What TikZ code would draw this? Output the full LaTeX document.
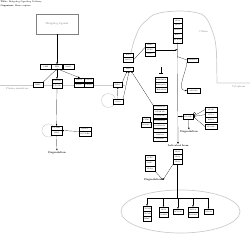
\documentclass[tikz,border=0pt]{standalone}
\usepackage{tikz}
\usetikzlibrary{shapes.geometric, arrows, arrows.meta, positioning}

\begin{document}
\begin{tikzpicture}[x=0.1cm, y=-0.1cm]
\tikzstyle{gene}=[draw, line width=0.45pt, fill=white, minimum width=1cm, minimum height=0.44cm, inner sep=0pt, font=\fontsize{5}{5}\selectfont]
\tikzstyle{arr}=[-{Latex[length=5pt,width=4pt]}, line width=0.5pt]
\tikzstyle{memb}=[gray!40, line width=2pt]
\tikzstyle{lbl}=[gray, font=\fontsize{7.5}{8}\selectfont]
\tikzstyle{deg}=[font=\bfseries\fontsize{7.5}{8}\selectfont]
\tikzstyle{loopln}=[gray!70, line width=0.5pt]
\tikzstyle{tx}=[line width=1.2pt]

\useasboundingbox (0,0) rectangle (250,235);

\node[anchor=north west, inner sep=0pt, font=\fontsize{6.5}{7}\selectfont] (ttl) at (0.5,0.8) {\textbf{Title:} Hedgehog Signaling Pathway};
\node[anchor=north west, inner sep=0pt, font=\fontsize{6.5}{7}\selectfont] (org) at (0.5,4.6) {\textbf{Organism:} Homo sapiens};

% membranes, cilium and nucleus
\draw[memb] (0,85) -- (125,85);
\draw[memb] plot[smooth] coordinates {(131,53) (134,41) (140,27) (147,20) (153,15) (165,12) (180,11) (193,12) (203,15) (208,21) (212,30) (215,40) (216.5,52)};
\draw[memb] (216.5,52) -- (217,83) -- (250,83);
\draw[memb] (180.5,211.5) ellipse [x radius=59.5, y radius=21.5];
\node[lbl] (pmlbl) at (17.5,89) {Plasma membrane};
\node[lbl] (cytlbl) at (238.5,87) {Cytoplasm};
\node[lbl] (cillbl) at (203.5,32) {Cilium};

\draw[loopln] (48.5,130.5) circle [radius=6.5];
\draw[loopln] (108.5,100.5) circle [radius=7];

% ligands and receptors
\node[draw=gray!35, line width=2.5pt, minimum width=4.2cm, minimum height=2cm, gray, font=\fontsize{8}{9}\selectfont] (hhlig) at (57,24) {Hedgehog ligands};
\node[gene, minimum width=1.1cm] (ihh) at (57,66.5) {IHH};
\node[gene, minimum width=1.1cm, left=0pt of ihh] (shh) {SHH};
\node[gene, minimum width=1.1cm, right=0pt of ihh] (dhh) {DHH};
\node[gene] (hhip) at (38,84.5) {HHIP};
\node[gene] (ptcha) at (57,81.2) {PTCH1};
\node[gene, below=0pt of ptcha] (ptchb) {PTCH2};
\node[gene, minimum width=0.95cm, minimum height=0.45cm] (gasa) at (79,80.2) {GAS1};
\node[gene, minimum width=0.95cm, minimum height=0.45cm, right=0pt of gasa] (cdon) {CDON};
\node[gene, minimum width=0.95cm, minimum height=0.45cm, below=0pt of gasa] (boc) {BOC};
\node[gene, minimum width=0.95cm, minimum height=0.45cm, right=0pt of boc] (lrp) {LRP2};
\node[gene, minimum width=1.1cm] (ptchc) at (56.5,128.2) {PTCH1};
\node[gene, minimum width=1.1cm, below=0pt of ptchc] (shhc) {SHH};
\node[gene, minimum width=1.2cm] (dispa) at (85,129.2) {DISP1};
\node[gene, minimum width=1.2cm, below=0pt of dispa] (dispb) {SCUBE2};
\node[deg] (dega) at (57,153) {Degradation};

% smoothened and cilium
\node[gene, minimum width=0.95cm] (smoa) at (117.5,84.5) {SMO};
\node[gene] (smob) at (118,101.5) {SMO};
\node[gene] (evca) at (128.5,55.2) {EVC};
\node[gene, below=0pt of evca] (evcb) {EVC2};
\node[gene] (smoc) at (128.5,68.8) {SMO};
\node[gene] (kifa) at (150,45.2) {KIF7};
\node[gene, below=0pt of kifa] (kifb) {SUFU};
\node[gene, below=0pt of kifb] (kifc) {GLI3};
\node[gene, minimum width=0.9cm, minimum height=0.48cm] (tipa) at (177.5,20.4) {GLI2};
\node[gene, minimum width=0.9cm, minimum height=0.48cm, below=0pt of tipa] (tipb) {GLI3};
\node[gene, minimum width=0.9cm, minimum height=0.48cm, below=0pt of tipb] (tipc) {SUFU};
\node[gene, minimum width=0.9cm, minimum height=0.48cm, below=0pt of tipc] (tipd) {KIF7};
\node[gene, minimum width=0.9cm, minimum height=0.48cm, below=0pt of tipd] (tipe) {STK36};
\node[gene, minimum width=1.1cm] (gpra) at (192.5,60) {GPR161};
\node[gene, minimum width=1.3cm] (gprb) at (193.5,90.5) {ADCY6};

% kinases
\node[gene, minimum width=1.2cm, minimum height=0.5cm] (pkaa) at (161,79.5) {PRKACA};
\node[gene, minimum width=1.2cm, minimum height=0.5cm, below=0pt of pkaa] (pkab) {PRKACB};
\node[gene, minimum width=1.2cm, minimum height=0.5cm, below=0pt of pkab] (pkac) {PRKAR1A};
\coordinate (pkain) at (161,67);
\node[gene, minimum width=1.4cm] (cka) at (160,107.2) {CSNK1A1};
\node[gene, minimum width=1.4cm, below=0pt of cka] (ckb) {CSNK1D};
\node[gene, minimum width=1.4cm, below=0pt of ckb] (ckc) {CSNK1E};
\node[gene, minimum width=1.4cm, below=0pt of ckc] (ckd) {CSNK1G1};
\node[gene, minimum width=1.4cm, below=0pt of ckd] (cke) {CSNK1G2};
\node[gene, minimum width=1.4cm, below=0pt of cke] (ckf) {CSNK1G3};
\node[gene, minimum width=1.4cm, below=0pt of ckf] (ckg) {GSK3A};
\node[gene, minimum width=1.4cm, below=0pt of ckg] (ckh) {GSK3B};
\node[gene, minimum width=0.85cm, minimum height=0.5cm] (btrca) at (146,119.5) {BTRC};
\node[gene, minimum width=0.85cm, minimum height=0.5cm, below=0pt of btrca] (btrcb) {FBXW11};

% GLI processing
\node[gene] (glir) at (188,116.5) {GLI3R};
\node[circle, draw, line width=0.45pt, minimum size=0.25cm, inner sep=0pt] (pmark) at (194.5,113.5) {};
\node[gene, minimum width=1.2cm, minimum height=0.5cm] (spopa) at (211,109.5) {SPOP};
\node[gene, minimum width=1.2cm, minimum height=0.5cm, below=0pt of spopa] (spopb) {CUL3};
\node[gene, minimum width=1.2cm, minimum height=0.5cm, below=0pt of spopb] (spopc) {RBX1};
\node[gene, minimum width=1.2cm, minimum height=0.5cm] (spopd) at (211,126.5) {SPOPL};
\node[deg] (degb) at (189,132) {Degradation};
\node[deg, font=\bfseries\fontsize{7}{8}\selectfont] (actf) at (178,146) {Activated form};
\node[gene, minimum width=0.9cm, minimum height=0.5cm] (glia) at (177.5,151.5) {GLI1};
\node[gene, minimum width=0.9cm, minimum height=0.5cm, below=0pt of glia] (glib) {GLI2};
\node[gene, minimum width=0.9cm, minimum height=0.5cm, below=0pt of glib] (glic) {GLI3};
\node[gene, minimum height=0.53cm] (sufa) at (150,157.6) {SUFU};
\node[gene, minimum height=0.53cm, below=0pt of sufa] (sufb) {KIF7};
\node[gene, minimum height=0.53cm, below=0pt of sufb] (sufc) {ULK3};
\node[deg] (degc) at (153,180) {Degradation};

% target genes
\coordinate (gbar) at (177.5,198);
\node[gene, minimum width=0.8cm, minimum height=0.5cm] (tgaa) at (147,208.5) {PTCH1};
\node[gene, minimum width=0.8cm, minimum height=0.5cm, below=0pt of tgaa] (tgab) {PTCH2};
\node[gene, minimum width=0.8cm, minimum height=0.5cm, below=0pt of tgab] (tgac) {HHIP};
\node[gene, minimum width=0.9cm, minimum height=0.5cm] (tgba) at (163.5,209.5) {GLI1};
\node[gene, minimum width=0.9cm, minimum height=0.5cm, below=0pt of tgba] (tgbb) {CCND1};
\node[gene, minimum height=0.5cm] (tgc) at (178,211.5) {MYCN};
\node[gene, minimum height=0.5cm] (tgda) at (193,209.5) {BCL2};
\node[gene, minimum height=0.5cm, below=0pt of tgda] (tgdb) {FOXM1};
\node[gene, minimum width=0.9cm, minimum height=0.5cm] (tge) at (208.5,211.5) {SNAI1};

% connectors
\draw[arr] (hhlig) -- (ihh);
\draw[arr] (hhip.north east) -- (ihh.south);
\draw[arr] (ihh.south) -- (ptcha);
\draw[arr] (ihh.south) -- (gasa.70);
\draw[arr] (ptchb) -- (ptchc);
\draw[arr] (dispa.south west) -- (ptchc.south east);
\draw[arr] (shhc) -- (dega);
\draw[arr] (smob) -- (smoa);
\draw[arr] (smoa.north east) -- (smoc.-120);
\draw[arr] (smob.north east) -- (smoc.-75);
\draw[arr] (cka.north west) -- (smoc.-40);
\draw[line width=0.5pt] (evcb.east) -- (kifa.south west);
\draw[arr] (kifb.east) -- (kifb.east -| tipe.south);
\draw[arr] (tipe) -- (actf);
\draw[line width=0.5pt] (kifc.south -| tipe.south) -- (gpra.west);
\draw[arr] (gpra.south west) to[out=-95, in=180] (gprb.west);
\draw[-{Bar[width=12pt]}, line width=0.5pt, shorten >=10pt] (pkain) -- (pkaa.north);
\draw[arr] (glir.west -| tipe.south) -- (glir.west);
\draw[arr] (spopa.west) -- (glir.east);
\draw[arr] (spopb.west) -- (glir.east);
\draw[arr] (spopd.west) -- (glir.east);
\draw[arr] (glir.south) -- (degb.north);
\draw[arr] (sufc.south east) -- (degc.east);
\draw[arr] (glic.south west) -- (degc.east);
\draw[tx] (glic) -- (gbar);
\draw[tx] (tgaa.north |- gbar) -- (tge.north |- gbar);
\foreach \t in {tgaa,tgba,tgc,tgda,tge}
  \draw[arr] (\t.north |- gbar) -- (\t.north);

\end{tikzpicture}
\end{document}
